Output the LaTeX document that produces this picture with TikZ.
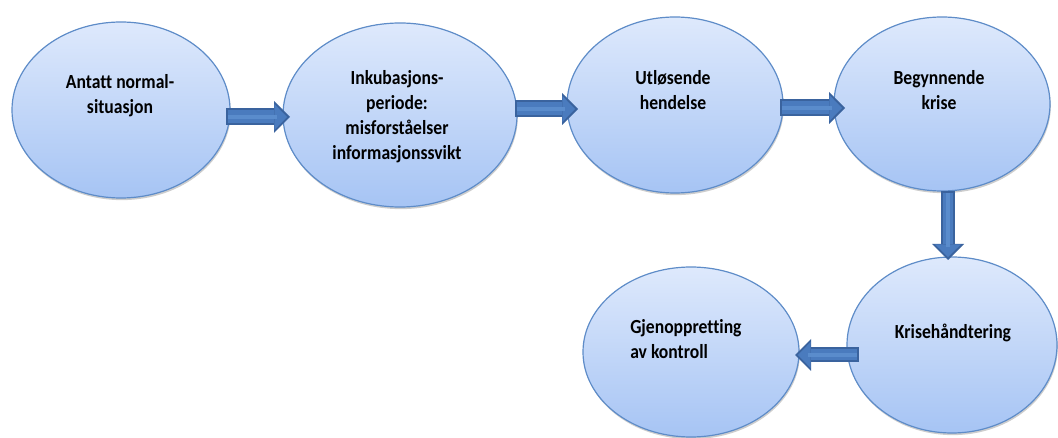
\documentclass[tikz,border=0pt]{standalone}
\usepackage{fontspec}
\setmainfont{Carlito}[FakeStretch=0.88, Ligatures=NoCommon]
\usetikzlibrary{shapes.geometric,arrows.meta,shadows}

\definecolor{ellTop}{HTML}{DEE9FC}
\definecolor{ellBot}{HTML}{A6C4F4}
\definecolor{ellLine}{HTML}{5E8CC8}
\definecolor{arrDark}{HTML}{3A639E}
\definecolor{arrMid}{HTML}{4A7BBE}
\definecolor{arrLight}{HTML}{5A8CCC}

\tikzset{
  stage/.style={ellipse, inner sep=0pt, outer sep=0pt, draw=ellLine, line width=0.9pt,
    top color=ellTop, bottom color=ellBot,
    drop shadow={shadow xshift=0.6pt, shadow yshift=-1.6pt, opacity=0.28, fill=black!70}},
  caption/.style={font=\bfseries\fontsize{15}{18.75}\selectfont, text=black, inner sep=0pt, align=center},
  % block arrow: #1 = shaft width of the outline, #2 = shaft width of the inner fill
  blockarrow/.style 2 args={draw=arrDark, line width=#1,
    -{Triangle[length=12pt, width=24pt, line width=0pt]},
    postaction={draw=arrMid, line width=#2, shorten <=1.4pt, shorten >=2.2pt,
      -{Triangle[length=9.6pt, width=19.6pt, line width=0pt]}},
    postaction={draw=arrLight, line width=0.35*#2, shorten <=1.6pt, shorten >=10pt, -}}
}

\begin{document}
\begin{tikzpicture}[x=0.75pt, y=-0.75pt]
  \useasboundingbox (0,0) rectangle (1058,438);

  % the six stages
  \node[stage, minimum width=163.5pt, minimum height=132pt]   (e1) at (121,110) {};
  \node[stage, minimum width=175.5pt, minimum height=138pt]   (e2) at (400,115) {};
  \node[stage, minimum width=162pt,   minimum height=132pt]   (e3) at (675,105) {};
  \node[stage, minimum width=162pt,   minimum height=130.5pt] (e4) at (942,104) {};
  \node[stage, minimum width=157.5pt, minimum height=132pt]   (e5) at (952,345) {};
  \node[stage, minimum width=162pt,   minimum height=127.5pt] (e6) at (691,352) {};

  % stage texts
  \node[caption] (t1) at (120,95.5) {Antatt normal-\\situasjon};
  \node[caption] (t2) at (397,117) {Inkubasjons-\\periode:\\misforståelser\\informasjonssvikt};
  \node[caption] (t3) at (673,90.5) {Utløsende\\hendelse};
  \node[caption] (t4) at (939,90.5) {Begynnende\\krise};
  \node[caption] (t5) at (953,333) {Krisehåndtering};
  \node[caption, align=left, anchor=west] (t6) at (630,339.5) {Gjenoppretting\\av kontroll};

  % block arrows between the stages
  \draw[blockarrow={12.75pt}{9.75pt}] ([shift={(-4,7)}]e1.east) -- ([shift={(7,2)}]e2.west);
  \draw[blockarrow={12.75pt}{9.75pt}] ([shift={(-2,-6)}]e2.east) -- ([shift={(11,4)}]e3.west);
  \draw[blockarrow={12.75pt}{9.75pt}] ([shift={(-3,3)}]e3.east) -- ([shift={(11,4)}]e4.west);
  \draw[blockarrow={10.5pt}{7.5pt}] ([shift={(6,0)}]e4.south) -- ([shift={(-4,3)}]e5.north);
  \draw[blockarrow={11.25pt}{8.25pt}] ([shift={(12,10)}]e5.west) -- ([shift={(-4,3)}]e6.east);
\end{tikzpicture}
\end{document}
